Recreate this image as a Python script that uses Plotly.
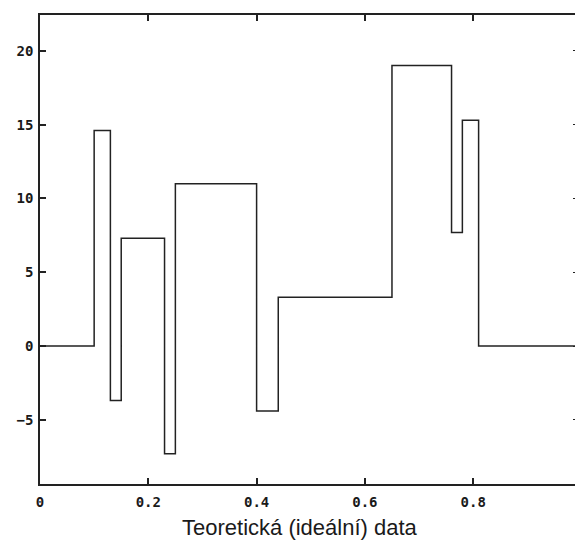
import plotly.graph_objects as go

# Piecewise-constant "blocks" signal: jump locations and the level held on each piece
breaks = [0.0, 0.10, 0.13, 0.15, 0.23, 0.25, 0.40, 0.44, 0.65, 0.76, 0.78, 0.81, 1.0]
levels = [0.0, 14.6, -3.7, 7.3, -7.3, 11.0, -4.4, 3.3, 19.0, 7.7, 15.3, 0.0]

x_ticks = [0, 0.2, 0.4, 0.6, 0.8]
x_ticklabels = ["0", "0.2", "0.4", "0.6", "0.8"]
y_ticks = [-5, 0, 5, 10, 15, 20]

xs = breaks
ys = levels + [levels[-1]]

W, H = 575, 543
ml, mr, mt, mb = 40, 0, 15, 59

tick_font = dict(family="DejaVu Sans Mono", size=14, color="#1a1a1a", weight="bold")
line_col = "#222"

fig = go.Figure()
fig.add_trace(go.Scatter(
    x=xs, y=ys, mode="lines", line_shape="hv",
    line=dict(color=line_col, width=1.5), showlegend=False, hoverinfo="skip",
))
# invisible trace so the right-hand tick marks get drawn
fig.add_trace(go.Scatter(x=[0], y=[0], yaxis="y2", mode="markers",
                         marker=dict(opacity=0), showlegend=False, hoverinfo="skip"))

fig.update_layout(
    width=W, height=H,
    margin=dict(l=ml, r=mr, t=mt, b=mb),
    paper_bgcolor="white", plot_bgcolor="white",
    xaxis=dict(
        range=[0, 0.988], tickvals=x_ticks, ticktext=x_ticklabels,
        ticks="inside", ticklen=6, tickwidth=1.5, tickcolor=line_col,
        showline=True, linecolor=line_col, linewidth=1.5, mirror="ticks",
        showgrid=False, zeroline=False, tickfont=tick_font,
        ticklabelstandoff=4,
    ),
    yaxis=dict(
        range=[-9.35, 22.43], tickvals=y_ticks,
        ticks="inside", ticklen=6, tickwidth=1.5, tickcolor=line_col,
        showline=True, linecolor=line_col, linewidth=1.5,
        showgrid=False, zeroline=False, tickfont=tick_font,
        ticklabelstandoff=2,
    ),
    yaxis2=dict(
        overlaying="y", side="right", matches="y", tickvals=y_ticks,
        ticks="inside", ticklen=2, tickwidth=1.2, tickcolor=line_col,
        showticklabels=False, showline=False, showgrid=False, zeroline=False,
    ),
    annotations=[dict(
        text="Teoretická (ideální) data", xref="paper", yref="paper",
        x=(300 - ml) / (W - ml - mr), y=-(527 - (H - mb)) / (H - mt - mb),
        xanchor="center", yanchor="middle", showarrow=False,
        font=dict(family="Liberation Sans", size=22, color="#1a1a1a"),
    )],
)

fig.write_html("out.html")
